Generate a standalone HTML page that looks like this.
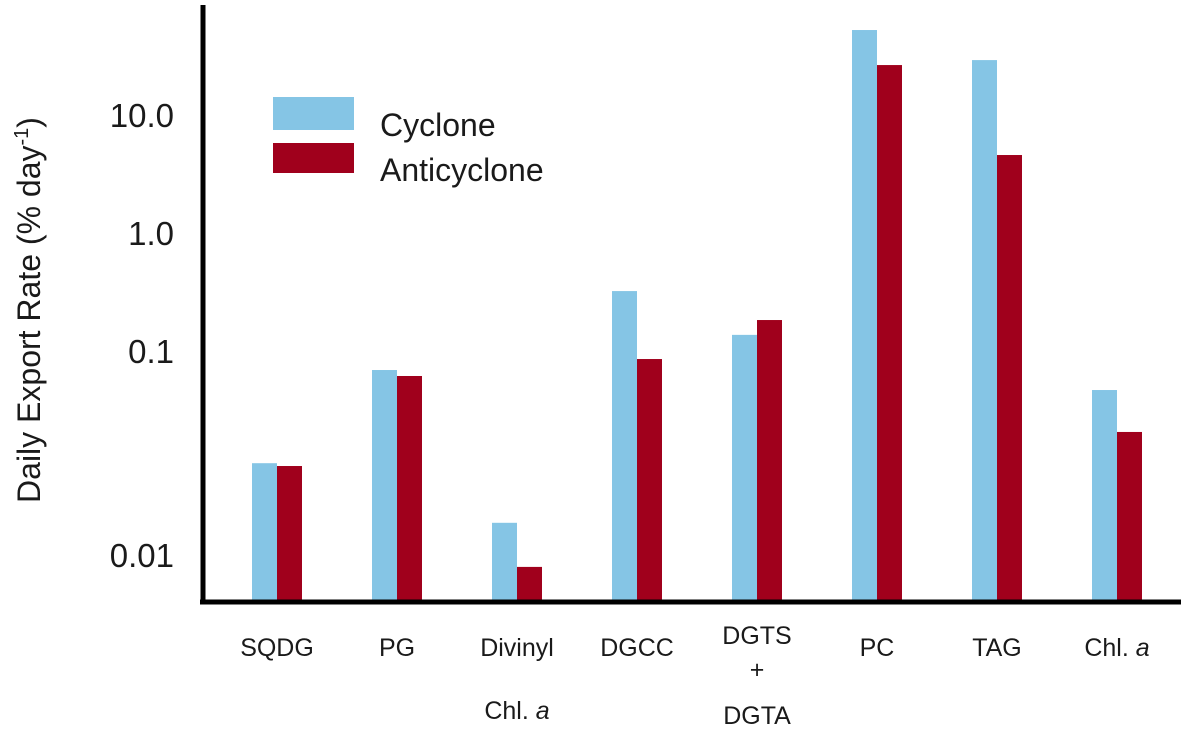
<!DOCTYPE html>
<html><head><meta charset="utf-8"><style>
body{margin:0;background:#fff;}
svg text{font-family:"Liberation Sans",Arial,sans-serif;fill:#1a1a1a;}
</style></head><body>
<svg id="chart" width="1181" height="737" xmlns="http://www.w3.org/2000/svg">
<g id="bars"></g>
<g id="yticks"></g>
<line x1="203" y1="5" x2="203" y2="604" stroke="#000" stroke-width="5"/>
<line x1="200" y1="602" x2="1181" y2="602" stroke="#000" stroke-width="5"/>
<text transform="translate(40,310) rotate(-90)" text-anchor="middle" font-size="32">Daily Export Rate (% day<tspan font-size="20" dy="-12">-1</tspan><tspan dy="12">)</tspan></text>
<g>
<rect x="273" y="97" width="81" height="33" fill="#85c5e5"/>
<rect x="273" y="143" width="81" height="30" fill="#a0001c"/>
<text x="380" y="136" font-size="32">Cyclone</text>
<text x="380" y="181" font-size="32">Anticyclone</text>
</g>
<g id="xlabels"></g>
</svg>
<script>
const categories=["SQDG","PG","Divinyl Chl. a","DGCC","DGTS + DGTA","PC","TAG","Chl. a"];
const cyclone=[0.0112,0.069,0.0035,0.322,0.137,52.5,29.2,0.0467];
const anticyclone=[0.0106,0.0614,0.00148,0.0855,0.183,26.5,4.58,0.0206];
const tickValues=[10,1,0.1,0.00187];
const tickLabels=["10.0","1.0","0.1","0.01"];
const NS="http://www.w3.org/2000/svg";
const yBase=600;
function y(v){return 233-118*Math.log10(v);}
function xc(i){return 277+i*120;}
const bw=25;
const gb=document.getElementById('bars');
function mk(tag,attrs,parent){const e=document.createElementNS(NS,tag);for(const k in attrs)e.setAttribute(k,attrs[k]);parent.appendChild(e);return e;}
categories.forEach((c,i)=>{
  const key=c.toLowerCase().replace(/[^a-z0-9]+/g,'-').replace(/-+$/,'');
  const t1=y(cyclone[i]);
  const r1=mk('rect',{x:xc(i)-bw,y:t1,width:bw,height:yBase-t1,fill:'#85c5e5'},gb);
  
  
  const t2=y(anticyclone[i]);
  const r2=mk('rect',{x:xc(i),y:t2,width:bw,height:yBase-t2,fill:'#a0001c'},gb);
  
  
});
const gt=document.getElementById('yticks');
tickValues.forEach((v,i)=>{
  const t=mk('text',{x:174,y:y(v)+12,'text-anchor':'end','font-size':'33'},gt);
  t.textContent=tickLabels[i];
  
  
});
const gx=document.getElementById('xlabels');
function lab(x,yy,txt,italicTail){
  const t=mk('text',{x:x,y:yy,'text-anchor':'middle','font-size':'25'},gx);
  
  
  if(italicTail){t.appendChild(document.createTextNode(txt+' '));const s=mk('tspan',{'font-style':'italic'},t);s.textContent=italicTail;}
  else t.textContent=txt;
}
categories.forEach((c,i)=>{
  const x=xc(i);
  if(c==="Divinyl Chl. a"){lab(x,656,"Divinyl");lab(x,719,"Chl.","a");}
  else if(c==="DGTS + DGTA"){lab(x,644,"DGTS");lab(x,678,"+");lab(x,724,"DGTA");}
  else if(c==="Chl. a"){lab(x,656,"Chl.","a");}
  else lab(x,656,c);
});
</script>
</body></html>
